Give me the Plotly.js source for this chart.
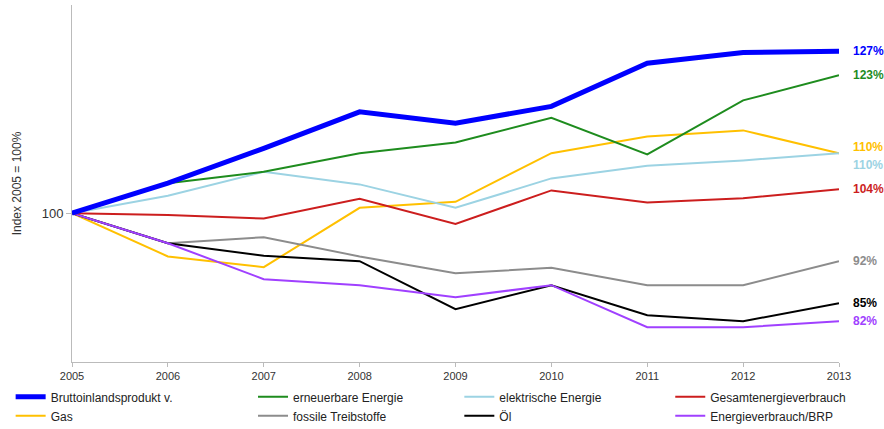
<!DOCTYPE html>
<html>
<head>
<meta charset="utf-8">
<script src="https://cdn.plot.ly/plotly-3.0.1.min.js"></script>
<style>html,body{margin:0;padding:0;background:#fff;}#chart{width:884px;height:429px;}</style>
</head>
<body>
<div id="chart"></div>
<script>
const years = [2005, 2006, 2007, 2008, 2009, 2010, 2011, 2012, 2013];
const bip = [100, 105, 110.8, 116.9, 115, 117.8, 125, 126.8, 127];
const erneuerbar = [100, 105, 106.9, 110, 111.8, 115.9, 109.8, 118.8, 123];
const elektrisch = [100, 102.9, 106.9, 104.8, 100.9, 105.8, 107.9, 108.8, 110];
const gesamt = [100, 99.7, 99.1, 102.4, 98.2, 103.8, 101.8, 102.5, 104];
const gas = [100, 92.8, 91, 100.9, 101.9, 110, 112.8, 113.8, 110];
const fossil = [100, 95, 96, 92.8, 90, 90.9, 88, 88, 92];
const oel = [100, 95, 92.9, 92, 84, 88, 83, 82, 85];
const evBrp = [100, 95, 89, 88, 86, 88, 81, 81, 82];
const endLabels = ["127%", "123%", "110%", "110%", "104%", "92%", "85%", "82%"];

const series = [
  {name: "Bruttoinlandsprodukt v.", y: bip, color: "#0000FF", width: 5, legend: "legend", label: endLabels[0]},
  {name: "Gas", y: gas, color: "#FFC000", width: 2, legend: "legend", label: endLabels[2]},
  {name: "erneuerbare Energie", y: erneuerbar, color: "#1E8C1E", width: 2, legend: "legend2", label: endLabels[1]},
  {name: "fossile Treibstoffe", y: fossil, color: "#8C8C8C", width: 2, legend: "legend2", label: endLabels[5]},
  {name: "elektrische Energie", y: elektrisch, color: "#9CD3E3", width: 2, legend: "legend3", label: endLabels[3]},
  {name: "Öl", y: oel, color: "#000000", width: 2, legend: "legend3", label: endLabels[6]},
  {name: "Gesamtenergieverbrauch", y: gesamt, color: "#CC1E1E", width: 2, legend: "legend4", label: endLabels[4]},
  {name: "Energieverbrauch/BRP", y: evBrp, color: "#A040FF", width: 2, legend: "legend4", label: endLabels[7]}
];

const drawOrder = [1, 3, 5, 7, 6, 4, 2, 0];
const traces = drawOrder.map(i => {
  const s = series[i];
  return {
    type: "scatter", mode: "lines", x: years, y: s.y, name: s.name,
    line: {color: s.color, width: s.width}, legend: s.legend,
    legendrank: (i % 2) + 1, hoverinfo: "skip"
  };
});

const annotations = series.map(s => {
  const last = s.y[s.y.length - 1];
  let yshift = 0;
  if (s.name === "Gas") yshift = 6;
  if (s.name === "elektrische Energie") yshift = -12;
  return {
    x: years[years.length - 1], y: last, xref: "x", yref: "y",
    text: "<b>" + s.label + "</b>", showarrow: false,
    xanchor: "left", xshift: 12, yshift: yshift,
    font: {family: "Liberation Sans, Arial, sans-serif", size: 12, color: s.color}
  };
});

const legBase = {
  orientation: "v", yanchor: "top", xanchor: "left", y: -0.057,
  bgcolor: "rgba(0,0,0,0)", tracegroupgap: 0, itemwidth: 30,
  font: {family: "Liberation Sans, Arial, sans-serif", size: 12, color: "#222"}
};

const layout = {
  width: 884, height: 429,
  margin: {l: 72, r: 45, t: 5, b: 67, autoexpand: false},
  paper_bgcolor: "#fff", plot_bgcolor: "#fff",
  font: {family: "Liberation Sans, Arial, sans-serif", size: 11, color: "#333"},
  showlegend: true,
  xaxis: {
    range: [2005, 2013], tickvals: years, ticktext: years.map(String),
    showgrid: false, zeroline: false, showline: true, linecolor: "#bbb", linewidth: 1,
    ticks: "outside", ticklen: 4, tickcolor: "#bbb",
    tickfont: {size: 11, color: "#333"}
  },
  yaxis: {
    range: [75.2, 134.7], tickvals: [100], ticktext: ["100"],
    showgrid: false, zeroline: false, showline: true, linecolor: "#bbb", linewidth: 1,
    ticks: "outside", ticklen: 5, tickcolor: "#bbb",
    tickfont: {size: 13, color: "#333"},
    title: {text: "Index 2005 = 100%", font: {size: 12, color: "#333"}, standoff: 17}
  },
  legend: Object.assign({}, legBase, {x: -0.08}),
  legend2: Object.assign({}, legBase, {x: 0.236}),
  legend3: Object.assign({}, legBase, {x: 0.505}),
  legend4: Object.assign({}, legBase, {x: 0.78}),
  annotations: annotations
};

Plotly.newPlot("chart", traces, layout, {displayModeBar: false, staticPlot: true});
</script>
</body>
</html>
